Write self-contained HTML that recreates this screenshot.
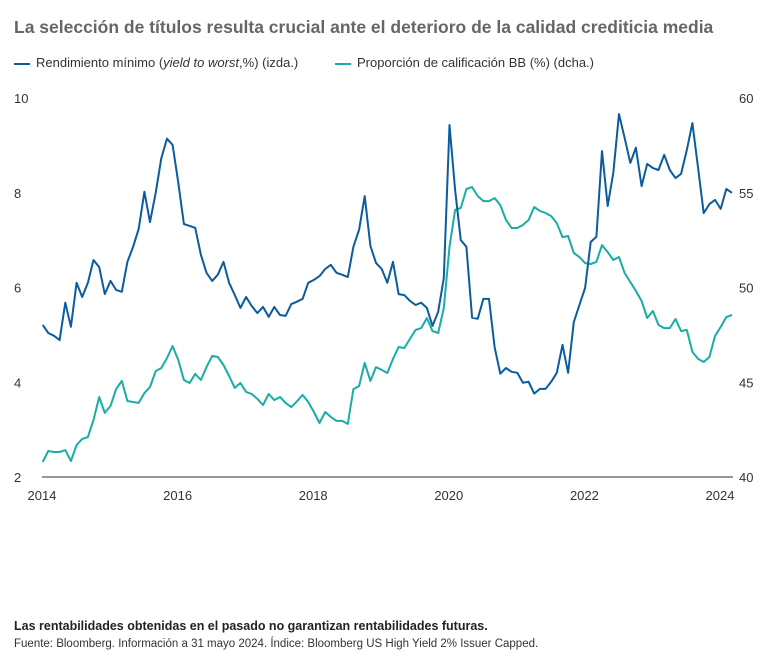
<!DOCTYPE html>
<html><head><meta charset="utf-8"><style>
body{margin:0;width:772px;height:661px;background:#fff;font-family:"Liberation Sans",sans-serif;overflow:hidden;position:relative}
.t{position:absolute;white-space:nowrap}
</style></head><body>
<div class="t" style="left:14px;top:17px;font-size:17.5px;font-weight:bold;color:#666">La selección de títulos resulta crucial ante el deterioro de la calidad crediticia media</div>
<div class="t" style="left:14px;top:55px;font-size:13px;color:#333"><span style="display:inline-block;width:16px;height:2px;background:#0b5c9e;vertical-align:middle;margin-right:6px"></span>Rendimiento mínimo (<i>yield to worst</i>,%) (izda.)</div>
<div class="t" style="left:335px;top:55px;font-size:13px;color:#333"><span style="display:inline-block;width:16px;height:2px;background:#19ada6;vertical-align:middle;margin-right:6px"></span>Proporción de calificación BB (%) (dcha.)</div>
<svg id="chart" width="772" height="661" style="position:absolute;left:0;top:0"></svg>
<div class="t" style="left:14px;top:619px;font-size:12.5px;font-weight:bold;color:#222">Las rentabilidades obtenidas en el pasado no garantizan rentabilidades futuras.</div>
<div class="t" style="left:14px;top:638px;font-size:11.5px;color:#333">Fuente: Bloomberg. Información a 31 mayo 2024. Índice: Bloomberg US High Yield 2% Issuer Capped.</div>
<script>
const yieldVals=[5.21,5.04,4.98,4.89,5.68,5.17,6.10,5.80,6.10,6.58,6.43,5.86,6.14,5.95,5.91,6.54,6.86,7.24,8.02,7.38,8.00,8.73,9.14,9.01,8.21,7.34,7.30,7.26,6.69,6.31,6.14,6.27,6.54,6.10,5.84,5.57,5.80,5.61,5.46,5.59,5.38,5.59,5.42,5.40,5.65,5.70,5.76,6.10,6.16,6.24,6.39,6.48,6.31,6.27,6.22,6.86,7.22,7.93,6.88,6.52,6.39,6.10,6.54,5.86,5.84,5.72,5.63,5.68,5.57,5.19,5.49,6.20,9.43,8.06,7.00,6.86,5.36,5.34,5.76,5.76,4.73,4.18,4.30,4.22,4.20,3.99,4.01,3.76,3.86,3.86,4.01,4.20,4.79,4.20,5.27,5.63,5.99,6.96,7.07,8.88,7.72,8.42,9.66,9.16,8.63,8.95,8.14,8.61,8.52,8.48,8.80,8.48,8.31,8.40,8.90,9.47,8.52,7.57,7.76,7.85,7.66,8.08,8.00];
const bbVals=[40.79,41.37,41.32,41.32,41.42,40.84,41.69,42.01,42.11,43.01,44.22,43.38,43.75,44.64,45.07,44.01,43.96,43.91,44.43,44.75,45.59,45.75,46.28,46.91,46.17,45.12,44.96,45.44,45.12,45.80,46.39,46.33,45.91,45.33,44.70,44.96,44.49,44.38,44.12,43.80,44.38,44.06,44.22,43.91,43.69,43.99,44.33,43.96,43.43,42.85,43.43,43.17,42.96,42.96,42.80,44.64,44.80,46.02,45.07,45.80,45.65,45.49,46.23,46.86,46.81,47.28,47.76,47.86,48.39,47.70,47.60,48.92,52.14,54.09,54.20,55.20,55.30,54.83,54.56,54.56,54.72,54.35,53.56,53.14,53.14,53.30,53.56,54.25,54.04,53.93,53.77,53.40,52.66,52.72,51.82,51.61,51.29,51.24,51.35,52.24,51.87,51.45,51.61,50.77,50.29,49.82,49.29,48.39,48.76,48.02,47.86,47.86,48.34,47.70,47.76,46.60,46.23,46.07,46.33,47.44,47.92,48.44,48.55];
const yearTicks=[2014,2016,2018,2020,2022,2024];
const leftTicks=[2,4,6,8,10];
const rightTicks=[40,45,50,55,60];
const startYear=2014, monthOffset=0.01;
const svg=document.getElementById('chart');
const NS='http://www.w3.org/2000/svg';
const x0=42,pxYear=67.8,yTop=98,yBot=477;
const xScale=t=>x0+(t-2014)*pxYear;
const yL=v=>yBot-(v-2)/8*(yBot-yTop);
const yR=v=>yBot-(v-40)/20*(yBot-yTop);
function mk(tag,attrs,text){const e=document.createElementNS(NS,tag);for(const k in attrs)e.setAttribute(k,attrs[k]);if(text!==undefined)e.textContent=text;svg.appendChild(e);return e;}
const ax=mk('line',{x1:x0,x2:733,y1:yBot,y2:yBot,stroke:'#777','stroke-width':1.5});


yearTicks.forEach(y=>{const e=mk('text',{x:xScale(y),y:500,'text-anchor':'middle','font-size':13,fill:'#333','font-family':'Liberation Sans'},String(y));

});
leftTicks.forEach(v=>{const e=mk('text',{x:14,y:yL(v)+5,'font-size':13,fill:'#333','font-family':'Liberation Sans'},String(v));

});
rightTicks.forEach(v=>{const e=mk('text',{x:739,y:yR(v)+5,'font-size':13,fill:'#333','font-family':'Liberation Sans'},String(v));

});
const tOf=i=>startYear+monthOffset+i/12;
const p1=bbVals.map((v,i)=>xScale(tOf(i)).toFixed(1)+','+yR(v).toFixed(1)).join(' ');
const l1=mk('polyline',{points:p1,fill:'none',stroke:'#19ada6','stroke-width':2,'stroke-linejoin':'round'});


const p2=yieldVals.map((v,i)=>xScale(tOf(i)).toFixed(1)+','+yL(v).toFixed(1)).join(' ');
const l2=mk('polyline',{points:p2,fill:'none',stroke:'#0b5c9e','stroke-width':2,'stroke-linejoin':'round'});


</script>
</body></html>
